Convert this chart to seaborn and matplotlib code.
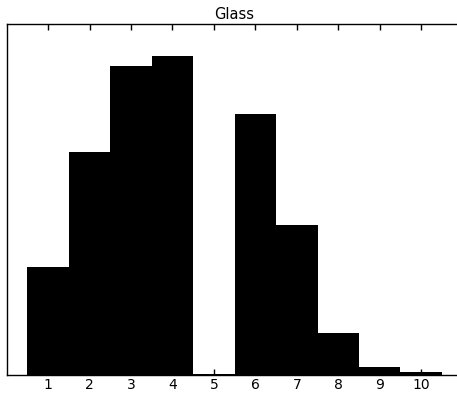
import matplotlib
matplotlib.use("Agg")
import matplotlib.pyplot as plt
import seaborn as sns
import pandas as pd

categories = [1, 2, 3, 4, 5, 6, 7, 8, 9, 10]
values = [108, 223, 309, 319, 1, 261, 150, 42, 8, 2.5]
tick_labels = ["1", "2", "3", "4", "5", "6", "7", "8", "9", "10"]
title = "Glass"

sns.set_style("white")
plt.rcParams['font.family'] = ['DejaVu Sans']
plt.rcParams['text.color'] = 'black'

df = pd.DataFrame({"x": categories, "y": values})

fig = plt.figure(figsize=(4.57, 3.94), dpi=100)
ax = fig.add_axes([6.6 / 457, 19 / 394, 456 / 457, 351 / 394])
sns.barplot(data=df, x="x", y="y", native_scale=True, width=1, color="black",
            saturation=1, linewidth=0, ax=ax)
ax.set_xlim(0, 11)
ax.set_ylim(0, max(values) * 1.1)
ax.set_xticks(categories)
ax.set_xticklabels(tick_labels, fontsize=10)
ax.set_yticks([])
ax.set_xlabel("")
ax.set_ylabel("")
ax.set_title(title, fontsize=10.5, pad=3.5, color="black")
for s in ["left", "top", "bottom"]:
    ax.spines[s].set_visible(True)
    ax.spines[s].set_color("black")
    ax.spines[s].set_linewidth(1)
ax.spines["right"].set_visible(False)
ax.tick_params(axis="x", direction="in", top=True, bottom=True, length=4, width=1,
               color="black", pad=2.5, labelcolor="black")
fig.savefig("out.png", dpi=100)
